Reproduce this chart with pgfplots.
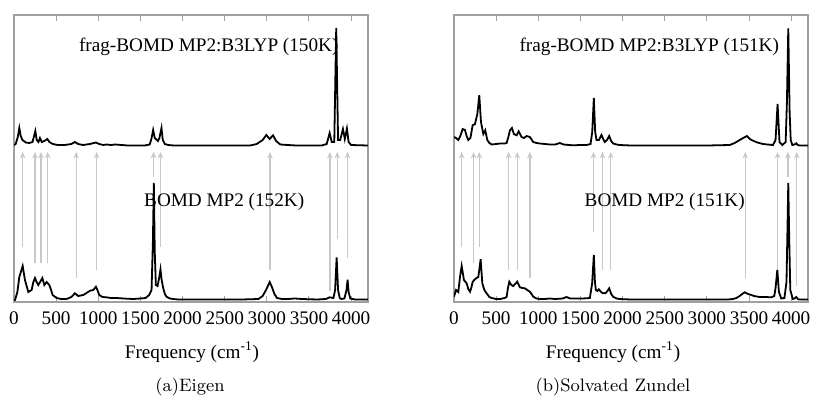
\documentclass[border=0pt]{standalone}
\usepackage{fontspec}
\usepackage{pgfplots}
\pgfplotsset{compat=1.18}
\usetikzlibrary{arrows.meta}
\newfontfamily\timesfont{Liberation Serif}
\definecolor{arrgray}{RGB}{200,200,200}
\definecolor{boxgray}{RGB}{160,160,160}
\pgfplotsset{
  specaxis/.style={
    anchor=south west, scale only axis, width=177pt, height=143.5pt,
    xmin=0, xmax=4200, ymin=0, ymax=287,
    xtick={0,500,...,4000}, ytick=\empty,
    axis line style={boxgray, line width=0.6pt},
    tick style={boxgray, line width=0.5pt},
    tick align=inside, major tick length=3pt,
    /pgf/number format/assume math mode=true,
    /pgf/number format/1000 sep={},
    xticklabel style={font=\timesfont\fontsize{9.6}{10}\selectfont, inner sep=2pt, yshift=-2.5pt},
  },
  spec/.style={black, line width=0.9pt, mark=none},
  arr/.style={arrgray, line width=0.7pt, mark=none, -{Stealth[length=3.2pt,width=2.8pt]}},
}
\begin{document}
\begin{tikzpicture}
\useasboundingbox (0,0) rectangle (407pt,-201.5pt);
% ---------------- (a) Eigen ----------------
\begin{axis}[specaxis, at={(7pt,-151pt)}]
\addplot[arr] coordinates {(103,55) (103,150)};
\addplot[arr] coordinates {(249,39) (249,150)};
\addplot[arr] coordinates {(320,39) (320,150)};
\addplot[arr] coordinates {(399,39) (399,150)};
\addplot[arr] coordinates {(738,24) (738,150)};
\addplot[arr] coordinates {(980,32) (980,150)};
\addplot[arr] coordinates {(1655,125) (1655,150)};
\addplot[arr] coordinates {(1738,55) (1738,150)};
\addplot[arr] coordinates {(3037,32) (3037,150)};
\addplot[arr] coordinates {(3748,11) (3748,150)};
\addplot[arr] coordinates {(3835,63) (3835,150)};
\addplot[arr] coordinates {(3957,44) (3957,150)};
% upper: frag-BOMD
\addplot[spec] coordinates {
(0,157) (20,158) (45,165) (63,174) (80,166) (100,162) (140,159.5) (180,159) (220,160) (253,171) (270,162) (290,160) (308,164) (330,160) (360,161) (395,163) (420,160) (460,158) (520,157) (600,157) (680,158) (723,160) (760,158) (820,157) (900,158) (972,159.5) (1010,158) (1060,157) (1100,157.5) (1150,157) (1200,157.5) (1280,157) (1350,156.5) (1450,156.5) (1550,156.5) (1610,157.5) (1630,163) (1651,172) (1670,164) (1707,161) (1725,164) (1750,174) (1765,162) (1790,158) (1830,157) (1900,156.5) (2800,156.5) (2880,158) (2950,162) (2994,167) (3033,163) (3073,166.7) (3110,161) (3160,157.5) (3250,157) (3350,156.5) (3650,156.5) (3710,158) (3745,169) (3770,160) (3800,160) (3823,274) (3845,162) (3870,162) (3903,173) (3925,163) (3950,173.5) (3970,160) (4000,157) (4200,156.5)
};
% lower: BOMD
\addplot[spec] coordinates {
(0,2) (12,2) (40,10) (63,25) (103,36) (130,22) (170,10) (209,12) (230,20) (249,24) (268,20) (288,17) (310,20) (336,24) (360,17) (387,20) (419,17) (440,12) (458,7) (506,4) (560,3) (624,3) (680,5) (723,8.7) (762,6) (822,7) (860,9) (901,11.3) (940,12) (972,15.3) (990,12) (1011,7) (1050,5) (1098,4.7) (1150,4) (1217,4) (1300,3.5) (1414,3) (1500,3.5) (1560,4) (1604,7) (1632,12) (1648,60) (1659,119) (1670,50) (1683,17) (1703,16) (1722,24) (1738,32.7) (1752,22) (1770,14) (1790,8) (1809,5.3) (1850,3.5) (1888,3) (1950,2.5) (2700,2.5) (2900,3) (2950,6) (2990,12) (3034,20) (3060,15) (3090,8) (3120,4) (3180,3) (3250,3) (3330,3.5) (3420,3) (3600,2.5) (3700,3) (3745,4.7) (3790,4) (3810,12) (3828,44.7) (3845,12) (3865,4) (3883,3) (3920,3.5) (3945,12) (3958,22.3) (3970,10) (3990,3.5) (4050,2.5) (4200,2.5)
};
\node[font=\timesfont\fontsize{9.6}{11}\selectfont] at (axis cs:2311,255) {frag-BOMD MP2:B3LYP (150K)};
\node[font=\timesfont\fontsize{9.6}{11}\selectfont] at (axis cs:2494,100) {BOMD MP2 (152K)};
\end{axis}
% ---------------- (b) Solvated Zundel ----------------
\begin{axis}[specaxis, at={(227pt,-151pt)}]
\addplot[arr] coordinates {(91,55) (91,150)};
\addplot[arr] coordinates {(233,39) (233,150)};
\addplot[arr] coordinates {(300,55) (300,150)};
\addplot[arr] coordinates {(648,32) (648,150)};
\addplot[arr] coordinates {(750,32) (750,150)};
\addplot[arr] coordinates {(900,24) (900,150)};
\addplot[arr] coordinates {(1655,70) (1655,150)};
\addplot[arr] coordinates {(1762,32) (1762,150)};
\addplot[arr] coordinates {(1860,32) (1860,150)};
\addplot[arr] coordinates {(3456,24) (3456,150)};
\addplot[arr] coordinates {(3839,32) (3839,150)};
\addplot[arr] coordinates {(3961,125) (3961,150)};
\addplot[arr] coordinates {(4067,16) (4067,150)};
% upper: frag-BOMD
\addplot[spec] coordinates {
(0,165) (24,164) (51,162) (75,166) (103,173) (130,172) (150,166) (170,162) (195,164) (221,176.7) (249,178) (277,188) (300,206.7) (320,180) (348,168) (371,171.7) (395,162) (420,159) (447,157.5) (500,158) (545,158.5) (600,158.5) (624,159) (645,165) (664,171.7) (687,174) (711,168) (743,166.7) (767,170.7) (802,165) (830,164) (861,166) (900,165) (940,160) (980,159) (1019,158.5) (1080,158) (1138,157.5) (1200,157.5) (1256,159) (1300,157.5) (1410,156.7) (1500,157) (1572,157) (1620,158) (1640,170) (1659,204) (1675,170) (1691,162) (1720,162) (1750,167) (1770,163) (1789,160) (1815,162) (1841,166) (1865,161) (1888,158.5) (1930,157.5) (1967,157) (2100,156.5) (3000,156.5) (3271,157) (3330,159) (3389,162) (3430,164) (3476,166) (3510,163) (3547,161.3) (3600,159.5) (3665,158) (3720,157.5) (3784,157) (3815,162) (3839,198) (3862,160) (3895,157) (3935,160) (3950,200) (3966,273.7) (3982,190) (3995,162) (4014,157) (4040,157.5) (4061,158.7) (4080,157) (4100,156.5) (4200,156.5)
};
% lower: BOMD
\addplot[spec] coordinates {
(0,5.3) (24,12) (51,10) (71,25) (91,36) (118,22) (150,18.7) (170,13) (190,10.3) (205,14) (221,20) (240,22) (261,23.7) (288,25) (300,32) (316,42.7) (336,18.7) (360,12) (387,8.7) (420,5) (447,4) (500,3) (545,3) (600,4) (624,5) (640,14) (656,20.3) (680,17) (703,16) (725,18) (750,20.3) (782,14.7) (810,14) (841,13.7) (870,12) (900,10.3) (920,8) (940,5.3) (980,3.5) (1019,3) (1080,3) (1138,3.5) (1200,3) (1290,3.5) (1335,5) (1380,3.5) (1454,3.5) (1530,3.5) (1612,4) (1639,18.7) (1659,47) (1672,20) (1683,12) (1700,11) (1718,12.7) (1745,10) (1770,8.7) (1800,9) (1820,11) (1841,13.7) (1865,8) (1888,5.3) (1930,3.5) (1967,3) (2100,2.5) (3250,2.5) (3310,3) (3350,4) (3389,6) (3420,8) (3448,9.7) (3490,8) (3527,7) (3560,6) (3626,5) (3700,5) (3765,4.7) (3800,6) (3815,14) (3836,32) (3855,10) (3883,3.5) (3920,4) (3945,20) (3958,80) (3966,119) (3978,60) (3990,12) (4020,3) (4040,3.5) (4061,5) (4080,3) (4100,2.5) (4200,2.5)
};
\node[font=\timesfont\fontsize{9.6}{11}\selectfont] at (axis cs:2317,255) {frag-BOMD MP2:B3LYP (151K)};
\node[font=\timesfont\fontsize{9.6}{11}\selectfont] at (axis cs:2500,100) {BOMD MP2 (151K)};
\end{axis}
% axis titles and captions
\node[font=\timesfont\fontsize{9.6}{11}\selectfont] at (96pt,-176pt) {Frequency (cm\textsuperscript{-1})};
\node[font=\timesfont\fontsize{9.6}{11}\selectfont] at (306.5pt,-176pt) {Frequency (cm\textsuperscript{-1})};
\node[font=\fontsize{9}{11}\selectfont] at (95pt,-193.5pt) {(a)Eigen};
\node[font=\fontsize{9}{11}\selectfont] at (306.5pt,-193.5pt) {(b)Solvated Zundel};
\end{tikzpicture}
\end{document}
